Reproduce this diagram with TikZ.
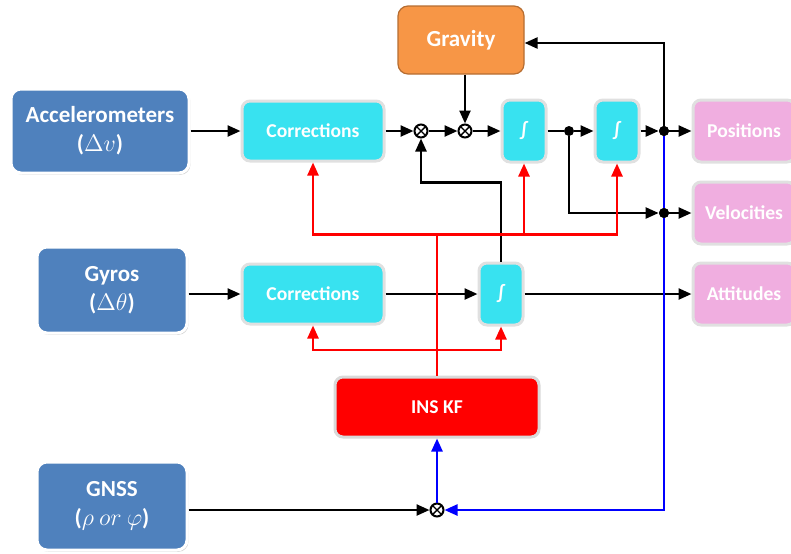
\documentclass[tikz,border=0pt]{standalone}
\usepackage{fontspec}
\setmainfont{Carlito}
\usepackage{tikz}
\usetikzlibrary{arrows.meta,positioning,shadows}

\definecolor{sensorblue}{HTML}{4F81BD}
\definecolor{corrcyan}{HTML}{38E2F0}
\definecolor{gravorange}{HTML}{F79646}
\definecolor{gravedge}{HTML}{B66D31}
\definecolor{outpink}{HTML}{F0AEE0}

\tikzset {
    sensor/.style={draw=white, line width=1.5pt, fill=sensorblue,
        rounded corners=5pt, text=white, align=center,
        font=\fontsize{11.5}{14.5}\selectfont\bfseries,
        drop shadow={shadow xshift=0.7pt, shadow yshift=-0.9pt, opacity=0.35}},
    block/.style={draw=black!12, line width=1.5pt, fill=corrcyan,
        rounded corners=4pt, text=white, align=center,
        font=\fontsize{9.8}{12}\selectfont\bfseries},
    integrator/.style={block, minimum width=22pt, minimum height=31pt,
        inner sep=0pt},
    output/.style={block, fill=outpink, minimum width=51pt, minimum height=31pt},
    summer/.style={circle, draw, line width=1pt, fill=white,
        minimum size=6.5pt, inner sep=0pt,
        path picture={\draw[line width=0.7pt]
            (path picture bounding box.north west) -- (path picture bounding box.south east)
            (path picture bounding box.north east) -- (path picture bounding box.south west);}},
    junction/.style={circle, fill=black, minimum size=5pt, inner sep=0pt},
    signal/.style={line width=1.2pt, -{Triangle[length=6.5pt, width=5.5pt]}},
}

\begin{document}
\begin{tikzpicture}[x=0.5pt, y=-0.5pt]
    \useasboundingbox (0,0) rectangle (791,553);

    % sensors
    \node[sensor, minimum width=89pt, minimum height=42pt] (accelerometers)
        at (100,131) {Accelerometers\\($\Delta v$)};
    \node[sensor, minimum width=75pt, minimum height=43pt] (gyros)
        at (112,290) {Gyros\\($\Delta\theta$)};
    \node[sensor, minimum width=75pt, minimum height=44pt] (gnss)
        at (112,506) {GNSS\\($\rho\ or\ \varphi$)};

    % mechanisation
    \node[block, minimum width=71pt, minimum height=30pt] (accCorrections)
        at (313,131) {Corrections};
    \node[block, minimum width=71pt, minimum height=30pt] (gyroCorrections)
        at (313,294) {Corrections};
    \node[draw=gravedge, line width=0.6pt, fill=gravorange, rounded corners=5pt,
        text=white, font=\fontsize{11.5}{14}\selectfont\bfseries,
        minimum width=63pt, minimum height=34pt] (gravity) at (461,40) {Gravity};

    \node[summer] (accSum) at (421,131) {};
    \node[summer] (gravSum) at (465,131) {};
    \node[integrator] (velInt) at (524,131) {∫};
    \node[junction] (velSplit) at (569,131) {};
    \node[integrator] (posInt) at (617,131) {∫};
    \node[junction] (posSplit) at (664,131) {};
    \node[junction] (velJoin) at (664,213) {};
    \node[integrator] (attInt) at (501,294) {∫};

    % outputs
    \node[output] (positions) at (744,131) {Positions};
    \node[output] (velocities) at (744,213) {Velocities};
    \node[output] (attitudes) at (744,294) {Attitudes};

    % filter
    \node[block, draw=black!15, fill=red, minimum width=102pt, minimum height=30pt]
        (insKF) at (437,407) {INS KF};
    \node[summer] (gnssSum) at (437,510) {};

    \draw[signal] (accelerometers) -- (accCorrections);
    \draw[signal] (accCorrections) -- (accSum);
    \draw[signal] (accSum) -- (gravSum);
    \draw[signal] (gravSum) -- (velInt);
    \draw[line width=1.2pt] (velInt) -- (velSplit);
    \draw[signal] (velSplit) -- (posInt);
    \draw[signal] (posInt) -- (posSplit);
    \draw[signal] (posSplit) -- (positions);
    \draw[signal] (posSplit) |- ([yshift=-1.5pt]gravity.east);
    \draw[signal] (gravity.south -| gravSum) -- (gravSum);
    \draw[signal] (velSplit) |- (velJoin);
    \draw[signal] (velJoin) -- (velocities);

    \draw[signal] (gyros.east |- gyroCorrections) -- (gyroCorrections);
    \draw[signal] (gyroCorrections) -- (attInt);
    \draw[signal] (attInt) -- (attitudes);
    \draw[signal] (attInt.north) -- ++(0,-79) -| (accSum);

    \draw[signal] (gnss.east |- gnssSum) -- (gnssSum);

    % corrections fed back from the filter
    \draw[line width=1.2pt, red] (insKF.north) -- ++(0,-141) coordinate (kfTap);
    \draw[signal, red] (kfTap) -| (accCorrections);
    \draw[signal, red] (kfTap -| velInt) -- (velInt);
    \draw[signal, red] (kfTap) -| (posInt);
    \coordinate (gyroTap) at (437,350);
    \draw[signal, red] (gyroTap) -| (gyroCorrections);
    \draw[signal, red] (gyroTap) -| (attInt);

    % position back to the measurement update
    \draw[signal, blue] (posSplit) |- (gnssSum);
    \draw[signal, blue] (gnssSum) -- (insKF);

    \node[junction] at (posSplit) {};
    \node[junction] at (velJoin) {};

\end{tikzpicture}
\end{document}
